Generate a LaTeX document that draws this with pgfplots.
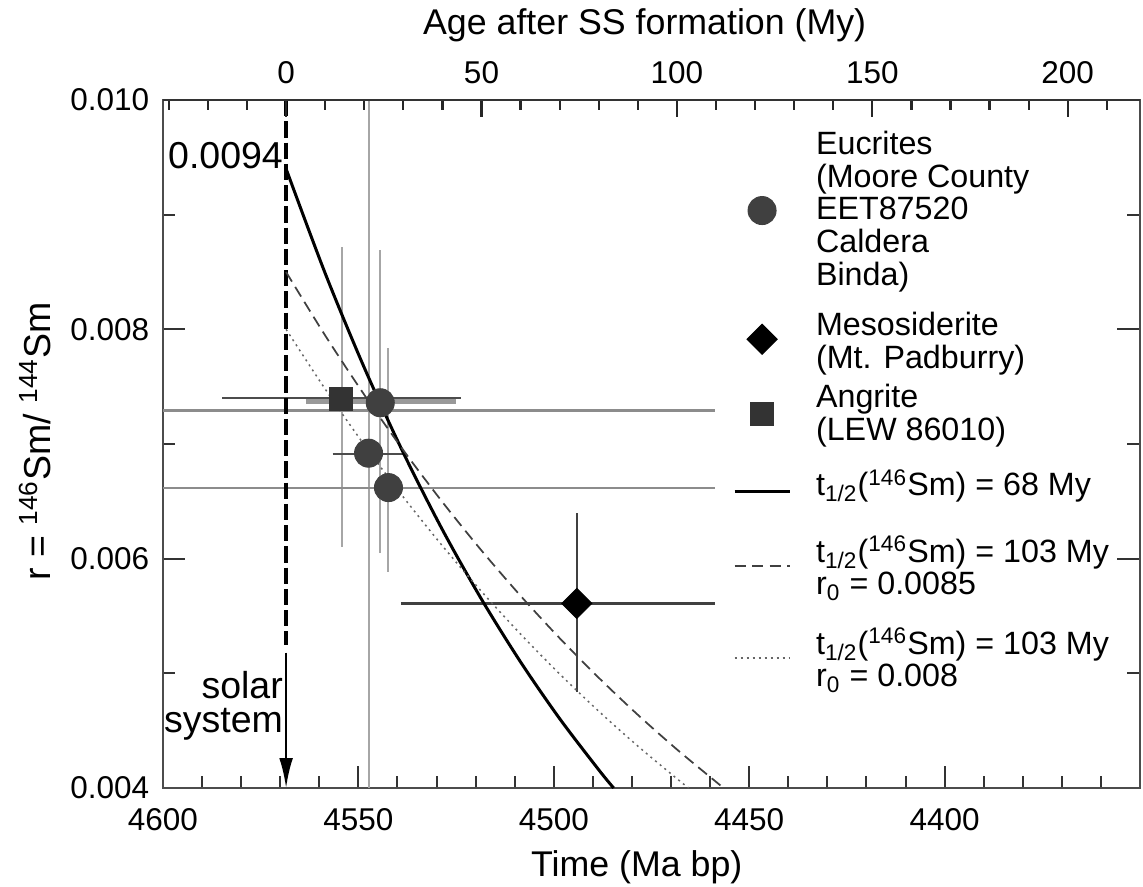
\documentclass[border=0pt]{standalone}
\usepackage{fontspec}
\setmainfont{Liberation Sans}
\usepackage{pgfplots}
\pgfplotsset{compat=1.18}
\usetikzlibrary{arrows.meta}
\pgfplotsset{
  legshift/.style={legend image code/.code={\draw[mark repeat=2,mark phase=2,##1] plot coordinates {(0pt,#1) (11pt,#1) (22pt,#1)};}},
  legline/.style={legend image code/.code={\draw[##1] (0pt,#1) -- (22pt,#1);}},
}
\begin{document}
\begin{tikzpicture}
\begin{axis}[
  scale only axis, width=390.8pt, height=275.2pt,
  xmin=4350, xmax=4600, x dir=reverse,
  ymin=0.004, ymax=0.010,
  clip=false,
  axis line style={black!70, line width=1pt},
  xtick={4400,4450,4500,4550,4600},
  minor xtick={4360,4370,...,4590},
  xtick pos=left,
  ytick={0.004,0.006,0.008,0.010},
  minor ytick={0.005,0.007,0.009},
  ytick pos=both, yticklabel pos=left,
  tick align=inside,
  major tick length=9pt, minor tick length=5pt,
  every tick/.style={black!80, line width=0.8pt},
  scaled y ticks=false,
  yticklabel style={/pgf/number format/.cd, fixed, fixed zerofill, precision=3, /tikz/.cd, xshift=-2pt},
  xticklabel style={/pgf/number format/.cd, set thousands separator={}, /tikz/.cd, yshift=-4.5pt},
  /pgf/number format/assume math mode=true,
  ticklabel style={font=\fontsize{12.6}{14}\selectfont},
  xlabel={Time (Ma bp)},
  xlabel style={at={(axis description cs:0.485,0)}, anchor=center, yshift=-31.6pt, font=\fontsize{14.3}{16}\selectfont},
  ylabel={r = \textsuperscript{146}Sm/ \textsuperscript{144}Sm},
  ylabel style={at={(axis description cs:-0.131,0.504)}, anchor=center, font=\fontsize{15}{17}\selectfont},
  legshift=0pt,
  legend cell align=left,
  legend style={at={(axis description cs:0.583,0.955)}, anchor=north west, draw=none, fill=none,
    inner sep=0pt, row sep=4.6pt, column sep=10pt, nodes={inner sep=0pt},
    font=\fontsize{12.9}{12.8}\selectfont},
]
% error bars
\addplot[forget plot, black!35, line width=0.8pt] coordinates {(4554.2,0.006102) (4554.2,0.008718)};
\addplot[forget plot, black!35, line width=0.8pt] coordinates {(4547.4,0.0040) (4547.4,0.0100)};
\addplot[forget plot, black!35, line width=0.8pt] coordinates {(4544.4,0.006049) (4544.4,0.008692)};
\addplot[forget plot, black!35, line width=0.8pt] coordinates {(4542.3,0.005886) (4542.3,0.007837)};
\addplot[forget plot, black!45, line width=1pt] coordinates {(4600,0.007292) (4458.7,0.007292)};
\addplot[forget plot, black!45, line width=1pt] coordinates {(4600,0.006616) (4458.7,0.006616)};
\addplot[forget plot, black!40, line width=2pt] coordinates {(4563.5,0.007371) (4525.0,0.007371)};
\addplot[forget plot, black!70, line width=0.8pt] coordinates {(4584.8,0.007401) (4523.8,0.007401)};
\addplot[forget plot, black!70, line width=0.8pt] coordinates {(4556.6,0.006913) (4537.8,0.006913)};
\addplot[forget plot, black!75, line width=1pt] coordinates {(4539.1,0.005609) (4458.7,0.005609)};
\addplot[forget plot, black!75, line width=1pt] coordinates {(4494.1,0.004837) (4494.1,0.006398)};
% solar system line
\addplot[forget plot, black, line width=1.3pt, dash pattern=on 6.5pt off 2pt] coordinates {(4568.5,0.0100) (4568.5,0.00525)};
\addplot[forget plot, black, line width=1pt, -{Latex[length=12pt,width=5.5pt]}] coordinates {(4568.5,0.00518) (4568.5,0.0040)};
% data
\addplot[only marks, mark=*, mark size=5.6pt, mark options={fill=black!75, draw=black!75}, legshift=0pt]
  coordinates {(4544.4,0.00736) (4547.4,0.00692) (4542.3,0.00662)};
\addlegendentry{\begin{tabular}[b]{@{}l@{}}Eucrites\\(Moore County\\EET87520\\Caldera\\Binda)\end{tabular}}
\addplot[only marks, mark=square*, mark size=4.24pt, mark options={rotate=45, fill=black, draw=black}, legshift=-1pt]
  coordinates {(4494.1,0.00561)};
\addlegendentry{\begin{tabular}[b]{@{}l@{}}\rule{0pt}{13.8pt}Mesosiderite\\(Mt. Padburry)\end{tabular}}
\addplot[only marks, mark=square*, mark size=4.6pt, mark options={fill=black!80, draw=black!80}, legshift=0pt]
  coordinates {(4554.4,0.00739)};
\addlegendentry{\begin{tabular}[b]{@{}l@{}}Angrite\\(LEW 86010)\end{tabular}}
\addplot[black, line width=1.2pt, smooth, legline=-5.4pt] coordinates {(4568.5,0.0094) (4558.5,0.0084890) (4548.5,0.0076664) (4538.5,0.0069234) (4528.5,0.0062525) (4518.5,0.0056465) (4508.5,0.0050993) (4498.5,0.0046051) (4488.5,0.0041589) (4484.68,0.0040)};
\addlegendentry{\begin{tabular}[b]{@{}l@{}}\rule{0pt}{16.2pt}t\textsubscript{1/2}(\textsuperscript{146}Sm) = 68 My\end{tabular}}
\addplot[black!75, line width=0.7pt, dash pattern=on 4.5pt off 2.5pt, smooth, legline=-4.6pt]
  coordinates {(4568.5,0.0085) (4558.5,0.0079468) (4548.5,0.0074296) (4538.5,0.0069461) (4528.5,0.0064940) (4518.5,0.0060714) (4508.5,0.0056763) (4498.5,0.0053068) (4488.5,0.0049615) (4478.5,0.0046386) (4468.5,0.0043367) (4458.5,0.0040544) (4456.49,0.0040)};
\addlegendentry{\begin{tabular}[b]{@{}l@{}}\rule{0pt}{20.6pt}t\textsubscript{1/2}(\textsuperscript{146}Sm) = 103 My\\r\textsubscript{0} = 0.0085\end{tabular}}
\addplot[black!60, line width=0.6pt, dash pattern=on 0.8pt off 1.6pt, smooth, legline=-3.2pt]
  coordinates {(4568.5,0.0080) (4558.5,0.0074794) (4548.5,0.0069926) (4538.5,0.0065375) (4528.5,0.0061120) (4518.5,0.0057142) (4508.5,0.0053424) (4498.5,0.0049947) (4488.5,0.0046696) (4478.5,0.0043657) (4468.5,0.0040816) (4465.5,0.0040)};
\addlegendentry{\begin{tabular}[b]{@{}l@{}}\rule{0pt}{17.8pt}t\textsubscript{1/2}(\textsuperscript{146}Sm) = 103 My\\r\textsubscript{0} = 0.008\end{tabular}}
\node[anchor=base east, inner sep=0pt, font=\fontsize{15}{17}\selectfont] at (axis cs:4569.2,0.0094) {0.0094};
\node[anchor=north east, inner sep=0pt, align=right, font=\fontsize{15}{13.5}\selectfont] at (axis cs:4569.2,0.00502) {solar\\system};
\end{axis}
\begin{axis}[
  scale only axis, width=390.8pt, height=275.2pt,
  xmin=-31.5, xmax=218.5, ymin=0, ymax=1,
  axis x line*=top, axis y line=none,
  axis line style={black!80, line width=1pt},
  xtick={0,50,...,200},
  minor xtick={-30,-20,...,210},
  tick align=inside,
  major tick length=7pt, minor tick length=4pt,
  every tick/.style={black!85, line width=0.9pt},
  /pgf/number format/assume math mode=true,
  ticklabel style={font=\fontsize{12.6}{14}\selectfont},
  xticklabel style={yshift=3pt},
  xlabel={Age after SS formation (My)},
  xlabel style={at={(axis description cs:0.493,1)}, anchor=center, yshift=30pt, font=\fontsize{14.3}{16}\selectfont},
]
\end{axis}
\pgfresetboundingbox
\path[use as bounding box] ([shift={(-65.2pt,-39.2pt)}]current axis.south west) rectangle ([shift={(1.2pt,40pt)}]current axis.north east);
\end{tikzpicture}
\end{document}
